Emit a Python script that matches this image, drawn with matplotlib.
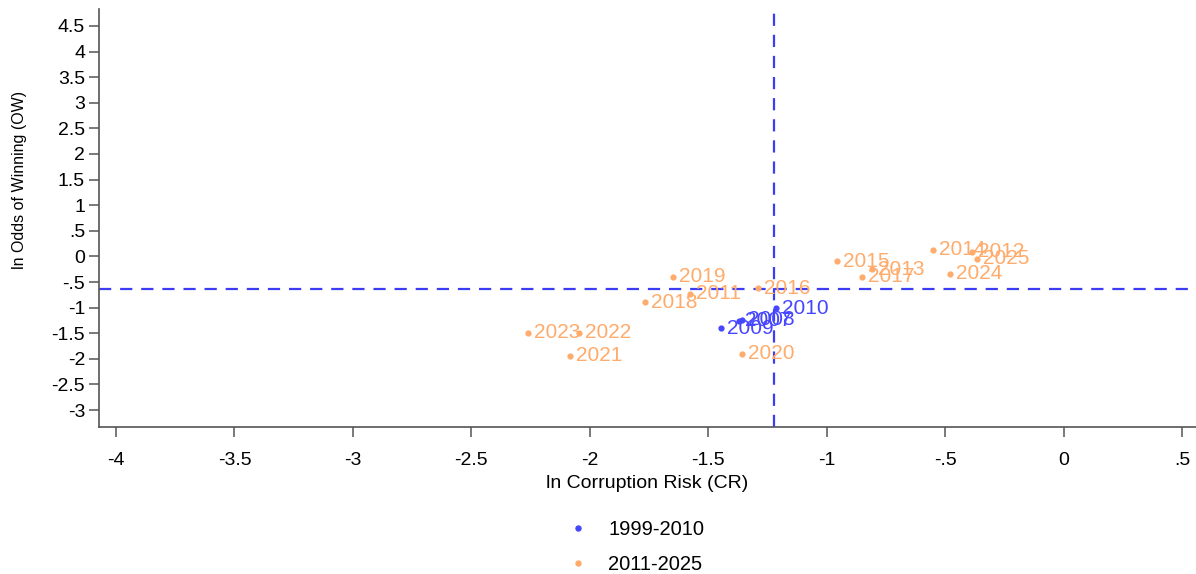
import matplotlib
matplotlib.use("Agg")
import matplotlib.pyplot as plt
from matplotlib.lines import Line2D

plt.rcParams['font.family'] = ['Liberation Sans', 'DejaVu Sans']

# Data: ln Corruption Risk (x), ln Odds of Winning (y)
years_a = ["2010", "2009", "2007", "2008"]
cr_a = [-1.214, -1.446, -1.370, -1.357]
ow_a = [-1.01, -1.40, -1.26, -1.24]

years_b = ["2011", "2012", "2013", "2014", "2015", "2016", "2017", "2018",
           "2019", "2020", "2021", "2022", "2023", "2024", "2025"]
cr_b = [-1.577, -0.387, -0.809, -0.551, -0.957, -1.290, -0.851, -1.767,
        -1.649, -1.357, -2.083, -2.045, -2.261, -0.480, -0.366]
ow_b = [-0.73, 0.09, -0.25, 0.13, -0.09, -0.62, -0.40, -0.89,
        -0.40, -1.90, -1.94, -1.49, -1.49, -0.34, -0.05]

mean_cr = -1.223
mean_ow = -0.64

xticks = [-4, -3.5, -3, -2.5, -2, -1.5, -1, -0.5, 0, 0.5]
xtick_labels = ["-4", "-3.5", "-3", "-2.5", "-2", "-1.5", "-1", "-.5", "0", ".5"]
yticks = [4.5, 4, 3.5, 3, 2.5, 2, 1.5, 1, 0.5, 0, -0.5, -1, -1.5, -2, -2.5, -3]
ytick_labels = ["4.5", "4", "3.5", "3", "2.5", "2", "1.5", "1", ".5", "0", "-.5",
                "-1", "-1.5", "-2", "-2.5", "-3"]

legend_labels = ["1999-2010", "2011-2025"]

BLUE = "#4646ff"
ORANGE = "#ffab6b"
DASH = "#3c3cf5"

fig = plt.figure(figsize=(11.96, 5.74), dpi=100)
ax = fig.add_axes([99/1196, 1 - 427/574, (1196 - 99)/1196, (427 - 9)/574])

ax.set_xlim(-4.072, 0.559)
ax.set_ylim(-3.33, 4.83)

ax.axvline(mean_cr, color=DASH, lw=1.6, ls=(0, (5.5, 4)), zorder=1)
ax.axhline(mean_ow, color=DASH, lw=1.6, ls=(0, (5.5, 4)), zorder=1)

ax.scatter(cr_a, ow_a, s=12, color=BLUE, zorder=3)
ax.scatter(cr_b, ow_b, s=12, color=ORANGE, zorder=3)
for x, y, t in zip(cr_a, ow_a, years_a):
    ax.annotate(t, (x, y), xytext=(4.5, 0), textcoords='offset points',
                va='center', ha='left', fontsize=15, color=BLUE, zorder=4)
for x, y, t in zip(cr_b, ow_b, years_b):
    ax.annotate(t, (x, y), xytext=(4.5, 0), textcoords='offset points',
                va='center', ha='left', fontsize=15, color=ORANGE, zorder=4)

ax.set_xticks(xticks)
ax.set_xticklabels(xtick_labels)
ax.set_yticks(yticks)
ax.set_yticklabels(ytick_labels)

for s in ['top', 'right']:
    ax.spines[s].set_visible(False)
for s in ['left', 'bottom']:
    ax.spines[s].set_color('#555555')
    ax.spines[s].set_linewidth(1.2)

ax.tick_params(axis='x', length=7, width=1.1, color='#555555', labelsize=14, pad=11)
ax.tick_params(axis='y', length=7, width=1.1, color='#555555', labelsize=14, pad=3)

ax.set_xlabel("ln Corruption Risk (CR)", fontsize=14, labelpad=4)
ax.set_ylabel("ln Odds of Winning (OW)", fontsize=11.5)
ax.yaxis.set_label_coords(-0.066, 0.59)

handles = [Line2D([], [], ls='none', marker='o', ms=3.6, color=BLUE),
           Line2D([], [], ls='none', marker='o', ms=3.6, color=ORANGE)]
fig.legend(handles, legend_labels, loc='center', bbox_to_anchor=(635/1196, 1 - 547/574),
           frameon=False, fontsize=14.5, handletextpad=0.9, labelspacing=0.75,
           handlelength=1.2)

fig.savefig("out.png", dpi=100)
